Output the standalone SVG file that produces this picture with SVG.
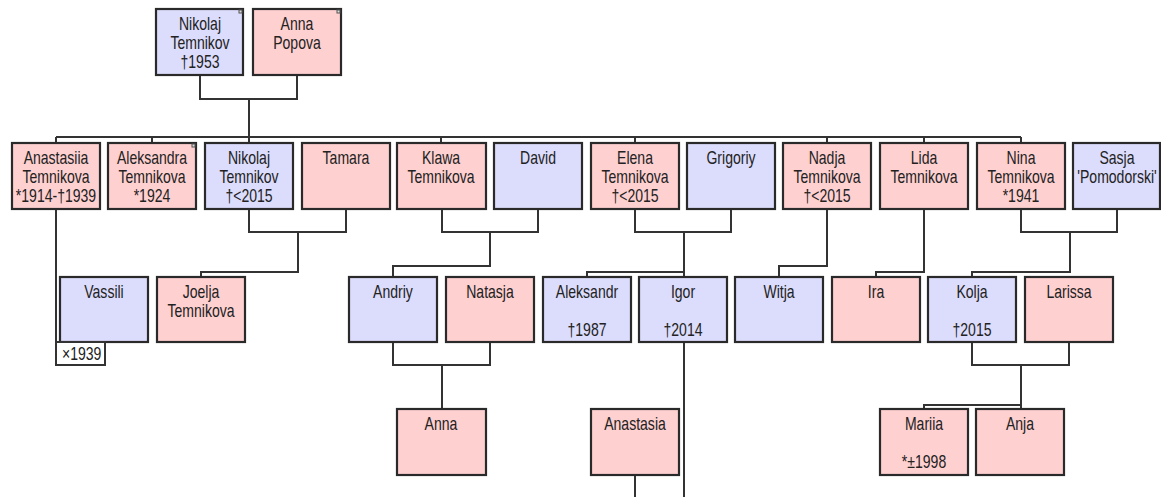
<svg xmlns="http://www.w3.org/2000/svg" width="1161" height="497" viewBox="0 0 1161 497">
<style>
.f{fill:#ffd0d0;stroke:#2a2a2a;stroke-width:2.2}
.m{fill:#dcdcfc;stroke:#2a2a2a;stroke-width:2.2}
.t{font-family:"Liberation Sans",Arial,sans-serif;font-size:18px;fill:#222;text-anchor:middle}
.s{font-family:"Liberation Sans",Arial,sans-serif;font-size:18px;fill:#222;text-anchor:start}
.c{fill:none;stroke:#333;stroke-width:2}
.k{fill:#ddd;stroke:#555;stroke-width:1}
</style>
<rect width="1161" height="497" fill="#fff"/>
<g id="connectors" class="c">
<path d="M200,75V99H297V75M249,99V137"/>
<path d="M56,137H1021M56,137V143M152,137V143M249,137V143M441,137V143M635,137V143M827,137V143M924,137V143M1021,137V143"/>
<path d="M249,209V232H346V209M298,232V272H201V277"/>
<path d="M442,209V232H538V209M490,232V266H393V277"/>
<path d="M635,209V232H731V209M684,232V277M684,272H587V277"/>
<path d="M827,209V266H779V277"/>
<path d="M924,209V272H876V277"/>
<path d="M1021,209V232H1117V209M1070,232V272H972V277"/>
<path d="M56,209V365"/>
<path d="M393,342V365H490V342M442,365V409"/>
<path d="M684,342V497"/>
<path d="M635,475V497"/>
<path d="M972,342V365H1069V342M1021,365V409M1021,405H924V409"/>
</g>
<g id="n_nikolaj1"><rect class="m" x="156" y="9" width="87" height="66"/><rect class="k" x="239" y="10" width="3" height="3"/><g transform="translate(200,0) scale(0.78,1)"><text class="t" x="0" y="30">Nikolaj</text><text class="t" x="0" y="49">Temnikov</text><text class="t" x="0" y="68">†1953</text></g></g>
<g id="n_anna_popova"><rect class="f" x="253" y="9" width="88" height="66"/><rect class="k" x="337" y="10" width="3" height="3"/><g transform="translate(297,0) scale(0.78,1)"><text class="t" x="0" y="30">Anna</text><text class="t" x="0" y="49">Popova</text></g></g>

<g id="n_anastasiia"><rect class="f" x="12" y="143" width="88" height="66"/><g transform="translate(56,0) scale(0.78,1)"><text class="t" x="0" y="164">Anastasiia</text><text class="t" x="0" y="183">Temnikova</text><text class="t" x="0" y="202">*1914-†1939</text></g></g>
<g id="n_aleksandra"><rect class="f" x="108" y="143" width="88" height="66"/><rect class="k" x="192" y="144" width="3" height="3"/><g transform="translate(152,0) scale(0.78,1)"><text class="t" x="0" y="164">Aleksandra</text><text class="t" x="0" y="183">Temnikova</text><text class="t" x="0" y="202">*1924</text></g></g>
<g id="n_nikolaj2"><rect class="m" x="205" y="143" width="88" height="66"/><g transform="translate(249,0) scale(0.78,1)"><text class="t" x="0" y="164">Nikolaj</text><text class="t" x="0" y="183">Temnikov</text><text class="t" x="0" y="202">†&lt;2015</text></g></g>
<g id="n_tamara"><rect class="f" x="302" y="143" width="88" height="66"/><g transform="translate(346,0) scale(0.78,1)"><text class="t" x="0" y="164">Tamara</text></g></g>
<g id="n_klawa"><rect class="f" x="397" y="143" width="89" height="66"/><g transform="translate(441,0) scale(0.78,1)"><text class="t" x="0" y="164">Klawa</text><text class="t" x="0" y="183">Temnikova</text></g></g>
<g id="n_david"><rect class="m" x="494" y="143" width="88" height="66"/><g transform="translate(538,0) scale(0.78,1)"><text class="t" x="0" y="164">David</text></g></g>
<g id="n_elena"><rect class="f" x="591" y="143" width="88" height="66"/><g transform="translate(635,0) scale(0.78,1)"><text class="t" x="0" y="164">Elena</text><text class="t" x="0" y="183">Temnikova</text><text class="t" x="0" y="202">†&lt;2015</text></g></g>
<g id="n_grigoriy"><rect class="m" x="687" y="143" width="88" height="66"/><g transform="translate(731,0) scale(0.78,1)"><text class="t" x="0" y="164">Grigoriy</text></g></g>
<g id="n_nadja"><rect class="f" x="783" y="143" width="88" height="66"/><g transform="translate(827,0) scale(0.78,1)"><text class="t" x="0" y="164">Nadja</text><text class="t" x="0" y="183">Temnikova</text><text class="t" x="0" y="202">†&lt;2015</text></g></g>
<g id="n_lida"><rect class="f" x="880" y="143" width="88" height="66"/><g transform="translate(924,0) scale(0.78,1)"><text class="t" x="0" y="164">Lida</text><text class="t" x="0" y="183">Temnikova</text></g></g>
<g id="n_nina"><rect class="f" x="977" y="143" width="88" height="66"/><g transform="translate(1021,0) scale(0.78,1)"><text class="t" x="0" y="164">Nina</text><text class="t" x="0" y="183">Temnikova</text><text class="t" x="0" y="202">*1941</text></g></g>
<g id="n_sasja"><rect class="m" x="1073" y="143" width="87" height="66"/><g transform="translate(1117,0) scale(0.78,1)"><text class="t" x="0" y="164">Sasja</text><text class="t" x="0" y="183">'Pomodorski'</text></g></g>

<g id="n_vassili"><rect class="m" x="60" y="277" width="88" height="65"/><g transform="translate(104,0) scale(0.78,1)"><text class="t" x="0" y="298">Vassili</text></g><rect x="56" y="342" width="49" height="23" fill="#fff" stroke="#333" stroke-width="2"/><g transform="translate(62,0) scale(0.78,1)"><text class="s" x="0" y="360">×1939</text></g></g>
<g id="n_joelja"><rect class="f" x="157" y="277" width="88" height="65"/><g transform="translate(201,0) scale(0.78,1)"><text class="t" x="0" y="298">Joelja</text><text class="t" x="0" y="317">Temnikova</text></g></g>
<g id="n_andriy"><rect class="m" x="349" y="277" width="88" height="65"/><g transform="translate(393,0) scale(0.78,1)"><text class="t" x="0" y="298">Andriy</text></g></g>
<g id="n_natasja"><rect class="f" x="446" y="277" width="88" height="65"/><g transform="translate(490,0) scale(0.78,1)"><text class="t" x="0" y="298">Natasja</text></g></g>
<g id="n_aleksandr"><rect class="m" x="543" y="277" width="88" height="65"/><g transform="translate(587,0) scale(0.78,1)"><text class="t" x="0" y="298">Aleksandr</text><text class="t" x="0" y="336">†1987</text></g></g>
<g id="n_igor"><rect class="m" x="639" y="277" width="88" height="65"/><g transform="translate(683,0) scale(0.78,1)"><text class="t" x="0" y="298">Igor</text><text class="t" x="0" y="336">†2014</text></g></g>
<g id="n_witja"><rect class="m" x="735" y="277" width="88" height="65"/><g transform="translate(779,0) scale(0.78,1)"><text class="t" x="0" y="298">Witja</text></g></g>
<g id="n_ira"><rect class="f" x="832" y="277" width="88" height="65"/><g transform="translate(876,0) scale(0.78,1)"><text class="t" x="0" y="298">Ira</text></g></g>
<g id="n_kolja"><rect class="m" x="928" y="277" width="88" height="65"/><g transform="translate(972,0) scale(0.78,1)"><text class="t" x="0" y="298">Kolja</text><text class="t" x="0" y="336">†2015</text></g></g>
<g id="n_larissa"><rect class="f" x="1025" y="277" width="88" height="65"/><g transform="translate(1069,0) scale(0.78,1)"><text class="t" x="0" y="298">Larissa</text></g></g>

<g id="n_anna"><rect class="f" x="397" y="409" width="89" height="66"/><g transform="translate(441,0) scale(0.78,1)"><text class="t" x="0" y="430">Anna</text></g></g>
<g id="n_anastasia"><rect class="f" x="591" y="409" width="88" height="66"/><g transform="translate(635,0) scale(0.78,1)"><text class="t" x="0" y="430">Anastasia</text></g></g>
<g id="n_mariia"><rect class="f" x="880" y="409" width="88" height="66"/><g transform="translate(924,0) scale(0.78,1)"><text class="t" x="0" y="430">Mariia</text><text class="t" x="0" y="468">*±1998</text></g></g>
<g id="n_anja"><rect class="f" x="976" y="409" width="88" height="66"/><g transform="translate(1020,0) scale(0.78,1)"><text class="t" x="0" y="430">Anja</text></g></g>
</svg>
